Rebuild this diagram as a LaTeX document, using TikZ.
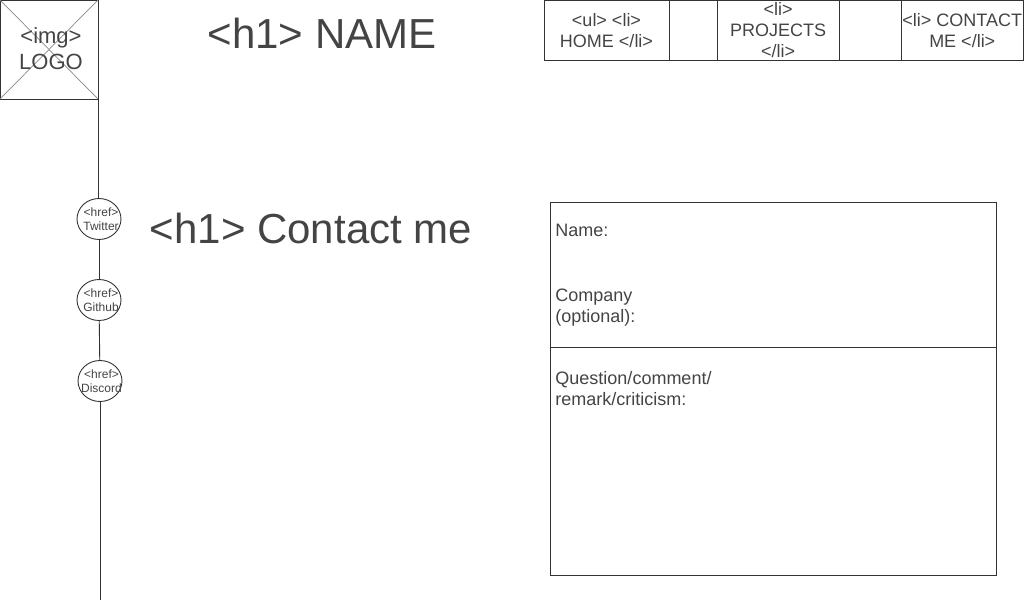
\documentclass[tikz,border=0pt]{standalone}
\usepackage{fontspec}
\setmainfont{Liberation Sans}
\usepackage{tikz}
\usetikzlibrary{shapes.geometric}
\definecolor{ink}{HTML}{333333}
\definecolor{txt}{HTML}{444444}
\definecolor{cross}{HTML}{888888}

\begin{document}
\begin{tikzpicture}[x=1pt, y=-1pt, line width=0.9pt,
  every node/.style={text=txt, align=center, inner sep=0pt},
  box/.style={draw=ink, rectangle},
  navcell/.style={box, minimum height=60pt, font=\fontsize{18}{21}\selectfont},
  link/.style={draw=ink, ellipse, minimum width=44pt, minimum height=41pt},
  linktext/.style={font=\fontsize{12}{14}\selectfont},
  heading/.style={font=\fontsize{42}{50}\selectfont},
  field/.style={anchor=west, align=left, font=\fontsize{18}{21}\selectfont}]

\useasboundingbox (0,0) rectangle (1024,600);

% Logo placeholder
\node[box, minimum width=98pt, minimum height=99pt] (logo) at (49,49.5) {};
\draw[cross, line width=0.7pt] (logo.north west) -- (logo.south east);
\draw[cross, line width=0.7pt] (logo.north east) -- (logo.south west);
\node[font=\fontsize{22}{26}\selectfont] (logotext) at (51,49) {<img>\\LOGO};

% Headings
\node[heading] (name) at (322,33) {<h1> NAME};
\node[heading] (contact) at (311,228) {<h1> Contact me};

% Navigation bar
\node[navcell, minimum width=125pt] (home) at (606.5,30.5) {<ul> <li>\\HOME </li>};
\node[navcell, minimum width=48pt] (gapa) at (693,30.5) {};
\node[navcell, minimum width=122pt] (projects) at (778,30.5) {<li>\\PROJECTS\\</li>};
\node[navcell, minimum width=62pt] (gapb) at (870,30.5) {};
\node[navcell, minimum width=122.5pt] (contactme) at (962.25,30.5) {<li> CONTACT\\ME </li>};

% Social links down the side
\node[link] (twitter) at (99,219) {};
\node[link] (github) at (99,300) {};
\node[link] (discord) at (100,381) {};
\node[linktext] (twittertext) at (101,219) {<href>\\Twitter};
\node[linktext] (githubtext) at (101,300) {<href>\\Github};
\node[linktext] (discordtext) at (101.5,381) {<href>\\Discord};
\coordinate (bottom) at (100,600);
\draw[ink] (logo.south east) -- (logo.south east |- twitter.north);
\draw[ink] (twitter) -- (github);
\draw[ink] (github) -- (discord);
\draw[ink] (discord) -- (bottom);

% Contact form
\node[box, minimum width=446pt, minimum height=145pt] (formtop) at (773,274.5) {};
\node[box, minimum width=446pt, minimum height=228pt] (formbot) at (773,461) {};
\node[field] (namefield) at (555,230) {Name:};
\node[field] (company) at (555,307.5) {Company\\(optional):};
\node[field] (question) at (555,388.5) {Question/comment/\\remark/criticism:};

\end{tikzpicture}
\end{document}
